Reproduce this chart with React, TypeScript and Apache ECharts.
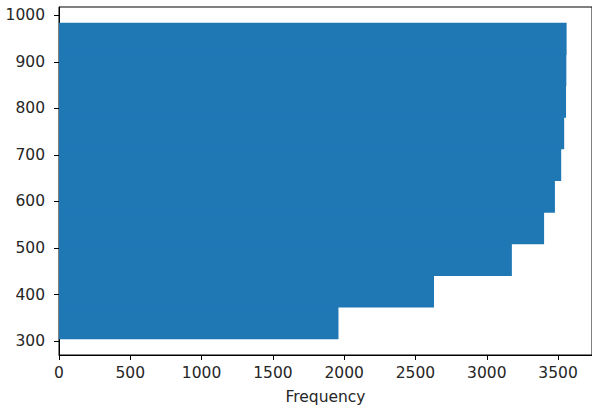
import React, { useEffect, useRef } from "react";
import * as echarts from "echarts";

// Histogram bin edges (value axis, vertical) and cumulative counts
const binEdges = [304, 372, 440, 508, 576, 644, 712, 780, 848, 916, 984];
const counts = [1960, 2630, 3176, 3402, 3478, 3522, 3543, 3556, 3558, 3560];
const yTicks = [300, 400, 500, 600, 700, 800, 900, 1000];
const xTicks = [0, 500, 1000, 1500, 2000, 2500, 3000, 3500];
const xLabel = "Frequency";

export default function App() {
  const ref = useRef<HTMLDivElement>(null);
  useEffect(() => {
    document.body.style.margin = "0";
    if (!ref.current) return;
    const chart = echarts.init(ref.current, null, { renderer: "svg" });
    const data = counts.map((c, i) => [binEdges[i], binEdges[i + 1], c]);
    const font = "DejaVu Sans";
    const textColor = "#262626";
    const fs = 15.5;
    chart.setOption({
      animation: false,
      backgroundColor: "#ffffff",
      grid: {
        left: 59,
        top: 7,
        width: 536,
        bottom: 53,
        show: true,
        borderColor: "#000",
        borderWidth: 1,
        backgroundColor: "transparent",
      },
      xAxis: {
        type: "value",
        min: 0,
        max: 3738,
        name: xLabel,
        nameLocation: "middle",
        nameGap: 34,
        nameTextStyle: { fontFamily: font, fontSize: fs, color: textColor },
        splitLine: { show: false },
        axisLine: { show: true, lineStyle: { color: "#000", width: 1 } },
        axisTick: {
          show: true,
          length: 5,
          customValues: xTicks,
          lineStyle: { color: "#000", width: 1 },
        },
        axisLabel: {
          customValues: xTicks,
          formatter: (v: number) => String(v),
          fontFamily: font,
          fontSize: fs,
          color: textColor,
          margin: 10,
        },
      },
      yAxis: {
        type: "value",
        min: 270,
        max: 1018,
        splitLine: { show: false },
        axisLine: { show: true, lineStyle: { color: "#000", width: 1 } },
        axisTick: {
          show: true,
          length: 5,
          customValues: yTicks,
          lineStyle: { color: "#000", width: 1 },
        },
        axisLabel: {
          customValues: yTicks,
          formatter: (v: number) => String(v),
          fontFamily: font,
          fontSize: fs,
          color: textColor,
          margin: 14,
        },
      },
      series: [
        {
          type: "custom",
          data,
          encode: { x: 2, y: [0, 1] },
          renderItem: (params: any, api: any) => {
            const lo = api.coord([0, api.value(0)]);
            const hi = api.coord([api.value(2), api.value(1)]);
            const isTop = params.dataIndex === counts.length - 1;
            const ov = isTop ? 0 : 1.2;
            return {
              type: "rect",
              shape: {
                x: lo[0],
                y: hi[1] - ov,
                width: hi[0] - lo[0],
                height: lo[1] - hi[1] + ov,
              },
              style: { fill: "#1f77b4" },
            };
          },
        },
      ],
    });
    return () => chart.dispose();
  }, []);
  return <div ref={ref} style={{ width: 592, height: 410 }} />;
}
